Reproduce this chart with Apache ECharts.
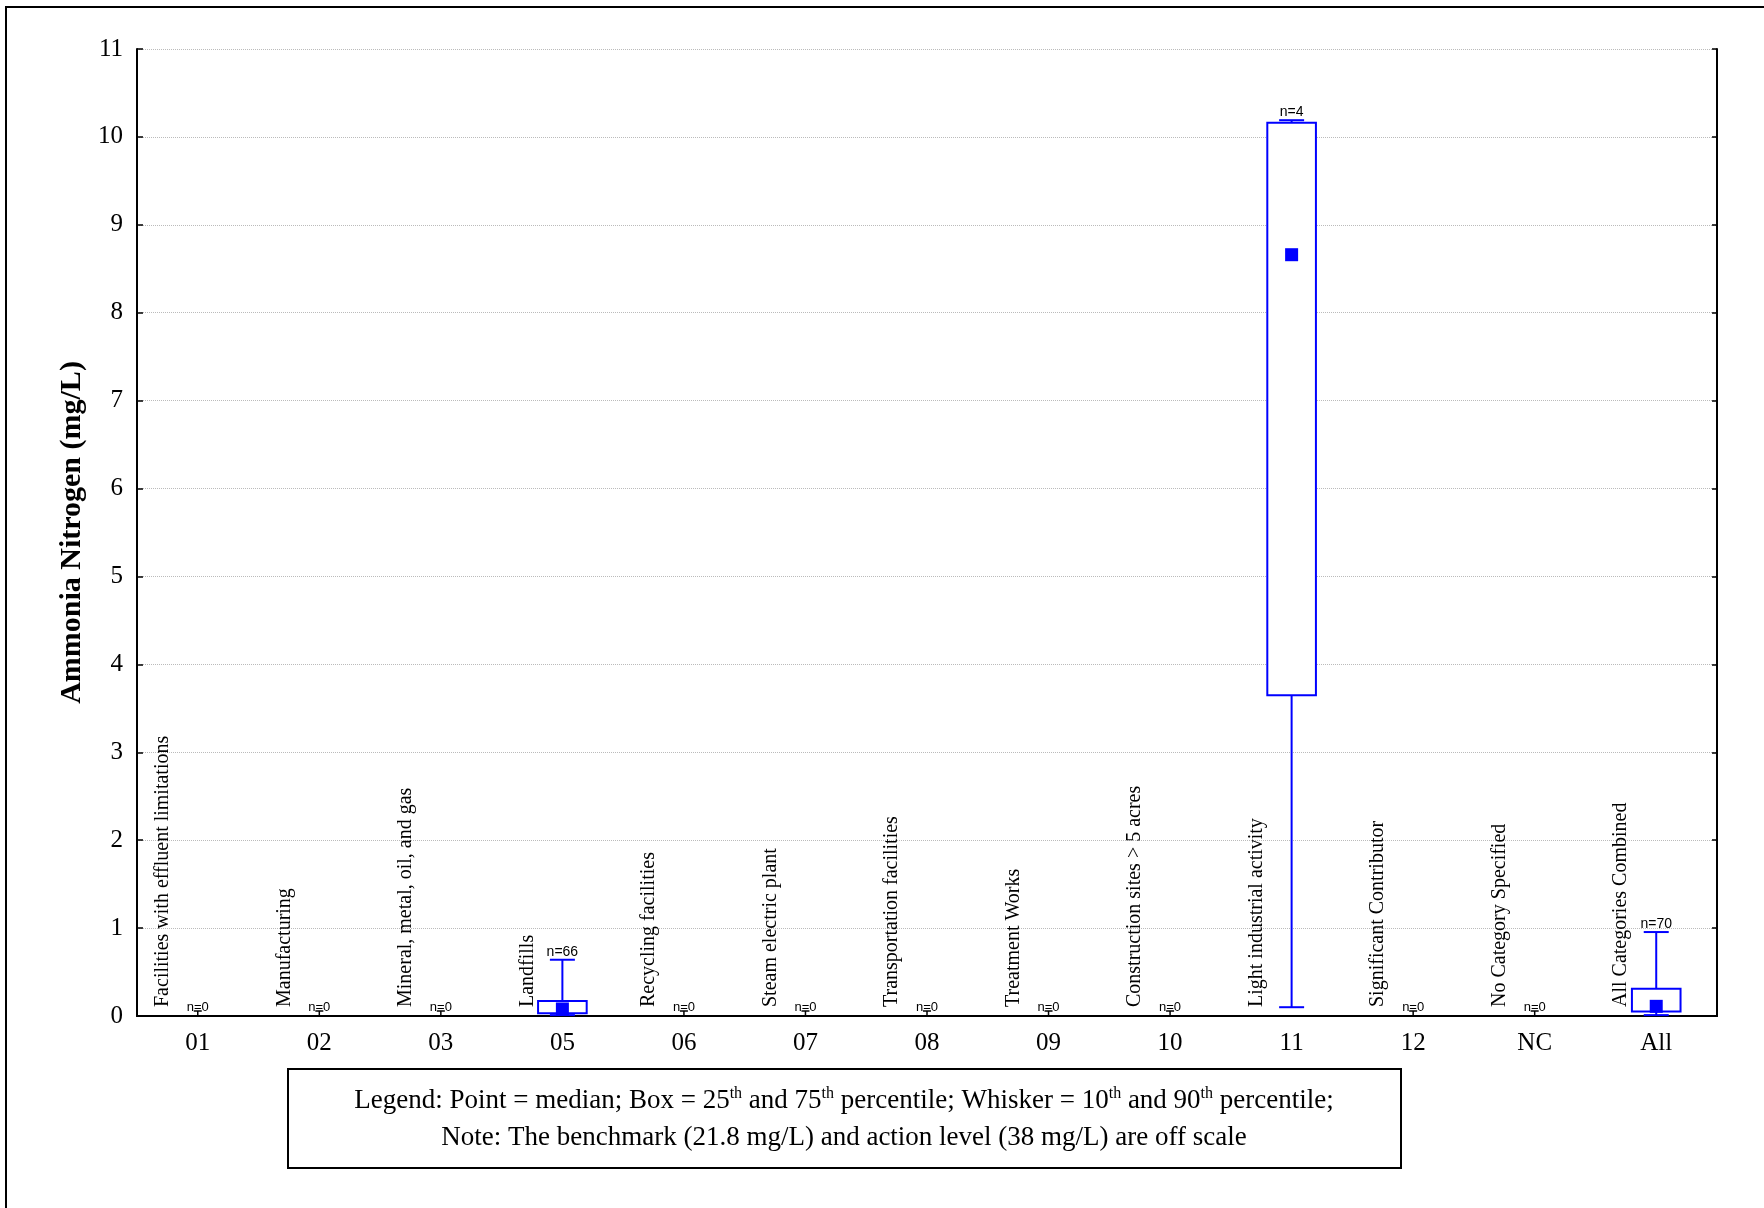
<!DOCTYPE html>
<html>
<head>
<meta charset="utf-8" />
<title>Ammonia Nitrogen</title>
<script src="https://cdn.jsdelivr.net/npm/echarts@6/dist/echarts.min.js"></script>
<style>
  html, body { margin: 0; padding: 0; background: #fff; }
  #chart { width: 1764px; height: 1208px; }
</style>
</head>
<body>
<div id="chart"></div>
<script>
// sector codes on the x axis
const categories = ['01', '02', '03', '05', '06', '07', '08', '09', '10', '11', '12', 'NC', 'All']
const categoryNames = [
  'Facilities with effluent limitations',
  'Manufacturing',
  'Mineral, metal, oil, and gas',
  'Landfills',
  'Recycling facilities',
  'Steam electric plant',
  'Transportation facilities',
  'Treatment Works',
  'Construction sites > 5 acres',
  'Light industrial activity',
  'Significant Contributor',
  'No Category Specified',
  'All Categories Combined',
]
// sample counts and percentiles (mg/L), null where there is no data
const sampleCounts = [0, 0, 0, 66, 0, 0, 0, 0, 0, 4, 0, 0, 70]
const p10 = [null, null, null, 0.01, null, null, null, null, null, 0.1, null, null, 0.01]
const p25 = [null, null, null, 0.03, null, null, null, null, null, 3.65, null, null, 0.05]
const median = [null, null, null, 0.08, null, null, null, null, null, 8.66, null, null, 0.11]
const p75 = [null, null, null, 0.17, null, null, null, null, null, 10.16, null, null, 0.31]
const p90 = [null, null, null, 0.64, null, null, null, null, null, 10.19, null, null, 0.955]
const yTicks = { min: 0, max: 11, step: 1 }

const serif = '"Liberation Serif", "Times New Roman", serif'
const sans = '"Liberation Sans", Arial, sans-serif'
const blue = '#0000ff'

function renderItem(params, api) {
  const i = params.dataIndex
  const base = api.coord([i, 0])
  const cx = base[0]
  const y0 = base[1]
  const band = api.size([1, 0])[0]
  const children = []

  // rotated sector name
  children.push({
    type: 'text',
    x: cx - 35,
    y: y0 - 9,
    rotation: Math.PI / 2,
    style: {
      text: categoryNames[i],
      font: '20px ' + serif,
      fill: '#000',
      align: 'left',
      verticalAlign: 'middle',
    },
  })

  if (sampleCounts[i] === 0) {
    // empty sector: little T mark with n=0
    children.push({
      type: 'line',
      shape: { x1: cx - 4, y1: y0 - 5, x2: cx + 4, y2: y0 - 5 },
      style: { stroke: '#000', lineWidth: 1.5 },
    })
    children.push({
      type: 'line',
      shape: { x1: cx, y1: y0 - 5, x2: cx, y2: y0 },
      style: { stroke: '#000', lineWidth: 1.5 },
    })
    children.push({
      type: 'text',
      x: cx,
      y: y0 - 2,
      style: { text: 'n=0', font: '13px ' + sans, fill: '#000', align: 'center', verticalAlign: 'bottom' },
    })
    return { type: 'group', children }
  }

  const boxW = band * 0.4
  const capW = 25
  const yLo = api.coord([i, p10[i]])[1]
  const yQ1 = api.coord([i, p25[i]])[1]
  const yMed = api.coord([i, median[i]])[1]
  const yQ3 = api.coord([i, p75[i]])[1]
  const yHi = api.coord([i, p90[i]])[1]
  const lineStyle = { stroke: blue, lineWidth: 2 }

  // whiskers
  children.push({ type: 'line', shape: { x1: cx, y1: yHi, x2: cx, y2: yQ3 }, style: lineStyle })
  children.push({ type: 'line', shape: { x1: cx, y1: yQ1, x2: cx, y2: yLo }, style: lineStyle })
  children.push({ type: 'line', shape: { x1: cx - capW / 2, y1: yHi, x2: cx + capW / 2, y2: yHi }, style: lineStyle })
  children.push({ type: 'line', shape: { x1: cx - capW / 2, y1: yLo, x2: cx + capW / 2, y2: yLo }, style: lineStyle })
  // box
  children.push({
    type: 'rect',
    shape: { x: cx - boxW / 2, y: yQ3, width: boxW, height: yQ1 - yQ3 },
    style: { fill: '#fff', stroke: blue, lineWidth: 2 },
  })
  // median point
  children.push({
    type: 'rect',
    shape: { x: cx - 6.5, y: yMed - 6.5, width: 13, height: 13 },
    style: { fill: blue },
  })
  // sample size
  children.push({
    type: 'text',
    x: cx,
    y: yHi - 1,
    style: { text: 'n=' + sampleCounts[i], font: '14px ' + sans, fill: '#000', align: 'center', verticalAlign: 'bottom' },
  })
  return { type: 'group', children }
}

const chart = echarts.init(document.getElementById('chart'))

const option = {
  backgroundColor: '#fff',
  animation: false,
  grid: { left: 137, right: 47, top: 49, bottom: 192 },
  xAxis: [
    {
      type: 'category',
      data: categories,
      axisLine: { lineStyle: { color: '#000', width: 2 } },
      axisTick: { inside: true, length: 4, alignWithLabel: true, lineStyle: { color: '#000', width: 1.5 } },
      axisLabel: { fontFamily: serif, fontSize: 25, color: '#000', margin: 15 },
    },
    {
      type: 'category',
      position: 'top',
      data: categories,
      axisLine: { lineStyle: { color: '#000', width: 2 } },
      axisTick: { inside: true, length: 5, alignWithLabel: true, lineStyle: { color: '#000', width: 1.5 } },
      axisLabel: { show: false },
    },
  ],
  yAxis: [
    {
      type: 'value',
      min: yTicks.min,
      max: yTicks.max,
      interval: yTicks.step,
      name: 'Ammonia Nitrogen (mg/L)',
      nameLocation: 'middle',
      nameGap: 48,
      nameTextStyle: { fontFamily: serif, fontSize: 30, fontWeight: 'bold', color: '#000' },
      axisLine: { show: true, lineStyle: { color: '#000', width: 2 } },
      axisTick: { show: true, inside: true, length: 6, lineStyle: { color: '#000', width: 1.5 } },
      axisLabel: { fontFamily: serif, fontSize: 25, color: '#000', margin: 14 },
      splitLine: { show: true, lineStyle: { color: '#bbb', type: 'dotted', width: 1 } },
    },
    {
      type: 'value',
      position: 'right',
      min: yTicks.min,
      max: yTicks.max,
      interval: yTicks.step,
      axisLine: { show: true, lineStyle: { color: '#000', width: 2 } },
      axisTick: { show: true, inside: true, length: 5, lineStyle: { color: '#000', width: 1.5 } },
      axisLabel: { show: false },
      splitLine: { show: false },
    },
  ],
  series: [
    {
      type: 'custom',
      renderItem,
      xAxisIndex: 0,
      yAxisIndex: 0,
      data: categories.map((c, i) => [i, sampleCounts[i]]),
      encode: { x: 0, y: 1 },
      z: 10,
    },
  ],
  graphic: [
    // outer frame
    {
      type: 'rect',
      shape: { x: 6, y: 7, width: 1800, height: 1300 },
      style: { fill: 'none', stroke: '#000', lineWidth: 2 },
      silent: true,
    },
    // legend box
    {
      type: 'rect',
      shape: { x: 288, y: 1069, width: 1113, height: 99 },
      style: { fill: '#fff', stroke: '#000', lineWidth: 2 },
    },
    {
      type: 'text',
      x: 844,
      y: 1101,
      style: {
        text: 'Legend: Point = median; Box = 25{sup|th} and 75{sup|th} percentile; Whisker = 10{sup|th} and 90{sup|th} percentile;',
        font: '27px ' + serif,
        fill: '#000',
        align: 'center',
        verticalAlign: 'middle',
        lineHeight: 30,
        rich: {
          sup: { fontFamily: serif, fontSize: 16, verticalAlign: 'top', lineHeight: 30 },
        },
      },
    },
    {
      type: 'text',
      x: 844,
      y: 1138,
      style: {
        text: 'Note: The benchmark (21.8 mg/L) and action level (38 mg/L) are off scale',
        font: '27px ' + serif,
        fill: '#000',
        align: 'center',
        verticalAlign: 'middle',
      },
    },
  ],
}

chart.setOption(option)
</script>
</body>
</html>
